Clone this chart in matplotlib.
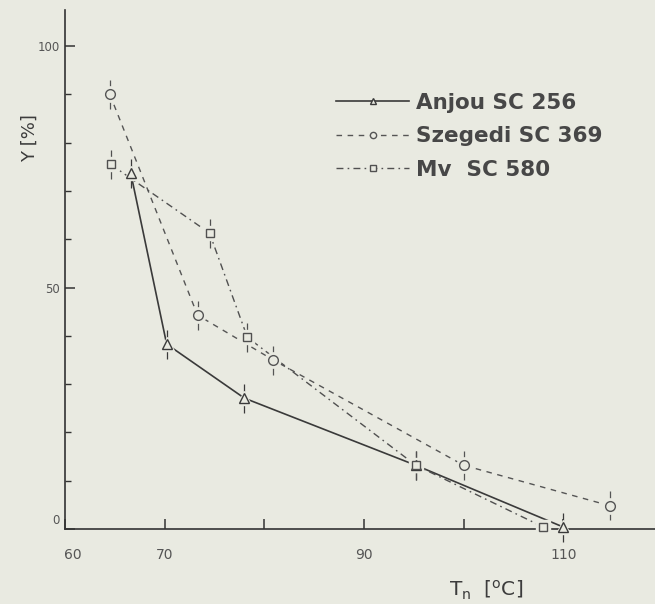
import matplotlib
matplotlib.use('Agg')
import matplotlib.pyplot as plt
from matplotlib.lines import Line2D
import matplotlib.transforms as mtransforms

# ---- data ----
anjou_T = [66.6, 70.2, 78.0, 95.2, 110.0]
anjou_Y = [73.7, 38.3, 27.1, 13.2, 0.4]
szeg_T = [64.5, 73.3, 80.9, 100.0, 114.7]
szeg_Y = [90.0, 44.3, 35.0, 13.2, 4.8]
mv_T = [64.6, 74.5, 78.3, 95.2, 108.0]
mv_Y = [75.5, 61.3, 39.7, 13.2, 0.4]
anjou_err = [3, 3, 3, 3, 3]
szeg_err = [3, 3, 3, 3, 3]
mv_err = [3, 3, 3, 3, 0]
series_names = ["Anjou SC 256", "Szegedi SC 369", "Mv  SC 580"]
xtick_vals = [60, 70, 80, 90, 100, 110]
xtick_labels = ["60", "70", "", "90", "", "110"]
ytick_vals = [0, 50, 100]
ytick_labels = ["0", "50", "100"]

BG = "#e9eae1"
INK = "#3c3c3c"

fig = plt.figure(figsize=(6.55, 6.04), dpi=100, facecolor=BG)
ax = fig.add_axes([65/655, 1-529/604, 1-65/655, (529-10)/604])
ax.set_facecolor(BG)
ax.set_xlim(60, 119.2)
ax.set_ylim(0, 107.5)

styles = [
    dict(T=anjou_T, Y=anjou_Y, e=anjou_err, ls='-', dashes=None, m='^', ms=6.5, col='#3a3a3a', lw=1.2),
    dict(T=szeg_T, Y=szeg_Y, e=szeg_err, ls='--', dashes=(4, 4), m='o', ms=7, col='#555555', lw=1.0),
    dict(T=mv_T, Y=mv_Y, e=mv_err, ls='-.', dashes=(5, 3, 1.2, 3), m='s', ms=6, col='#505050', lw=1.0),
]

for s in styles:
    ax.errorbar(s['T'], s['Y'], yerr=s['e'], fmt='none', ecolor=s['col'],
                elinewidth=0.9, capsize=0, zorder=2, clip_on=False)
    line, = ax.plot(s['T'], s['Y'], ls=s['ls'], color=s['col'], lw=s['lw'], zorder=3)
    if s['dashes'] is not None:
        line.set_dashes(s['dashes'])
    ax.plot(s['T'], s['Y'], ls='none', marker=s['m'], ms=s['ms'] + 4,
            mfc=BG, mec=BG, zorder=4, clip_on=False)
    ax.plot(s['T'], s['Y'], ls='none', marker=s['m'], ms=s['ms'],
            mfc=BG, mec=s['col'], mew=1.0, zorder=5, clip_on=False)

for side in ['top', 'right']:
    ax.spines[side].set_visible(False)
for side in ['left', 'bottom']:
    ax.spines[side].set_color('#333333')
    ax.spines[side].set_linewidth(1.2)

ax.set_xticks(xtick_vals)
ax.set_xticklabels(xtick_labels)
ax.set_yticks(ytick_vals)
ax.set_yticklabels(ytick_labels)
ax.set_yticks(range(10, 100, 10), minor=True)
ax.tick_params(axis='x', direction='in', length=7, width=1.1, color='#333333',
               labelsize=10, labelcolor='#555555', pad=14)
ax.tick_params(axis='y', which='major', direction='in', length=7, width=1.1,
               color='#333333', labelsize=8.5, labelcolor='#555555', pad=4)
ax.tick_params(axis='y', which='minor', direction='in', length=4, width=1.0, color='#333333')

ax.xaxis.get_majorticklabels()[0].set_transform(
    ax.xaxis.get_majorticklabels()[0].get_transform() +
    mtransforms.ScaledTranslation(8/100, 0, fig.dpi_scale_trans))
ax.yaxis.get_majorticklabels()[0].set_transform(
    ax.yaxis.get_majorticklabels()[0].get_transform() +
    mtransforms.ScaledTranslation(0, 10/100, fig.dpi_scale_trans))

fig.text(30/655, 1-138/604, "Y [%]", rotation=90, ha='center', va='center',
         fontsize=13, color=INK)
fig.text(486/655, 1-590/604, r"T$_\mathregular{n}$  [$^\mathregular{o}$C]",
         ha='center', va='center', fontsize=14.5, color=INK)

handles = []
for s in styles:
    h = Line2D([], [], ls=s['ls'], color=s['col'], lw=s['lw'], marker=s['m'],
               ms=4.5, mfc=BG, mec=s['col'])
    if s['dashes'] is not None:
        h.set_dashes(s['dashes'])
    handles.append(h)
leg = ax.legend(handles, series_names, loc='upper left',
                bbox_to_anchor=(336/655, 1-93/604), bbox_transform=fig.transFigure,
                frameon=False, handlelength=3.4, handletextpad=0.3,
                labelspacing=0.62, borderpad=0, borderaxespad=0,
                prop=dict(family='DejaVu Sans', weight='bold', size=15.5))
for t in leg.get_texts():
    t.set_color('#474747')

fig.savefig("out.png", dpi=100, facecolor=BG)
